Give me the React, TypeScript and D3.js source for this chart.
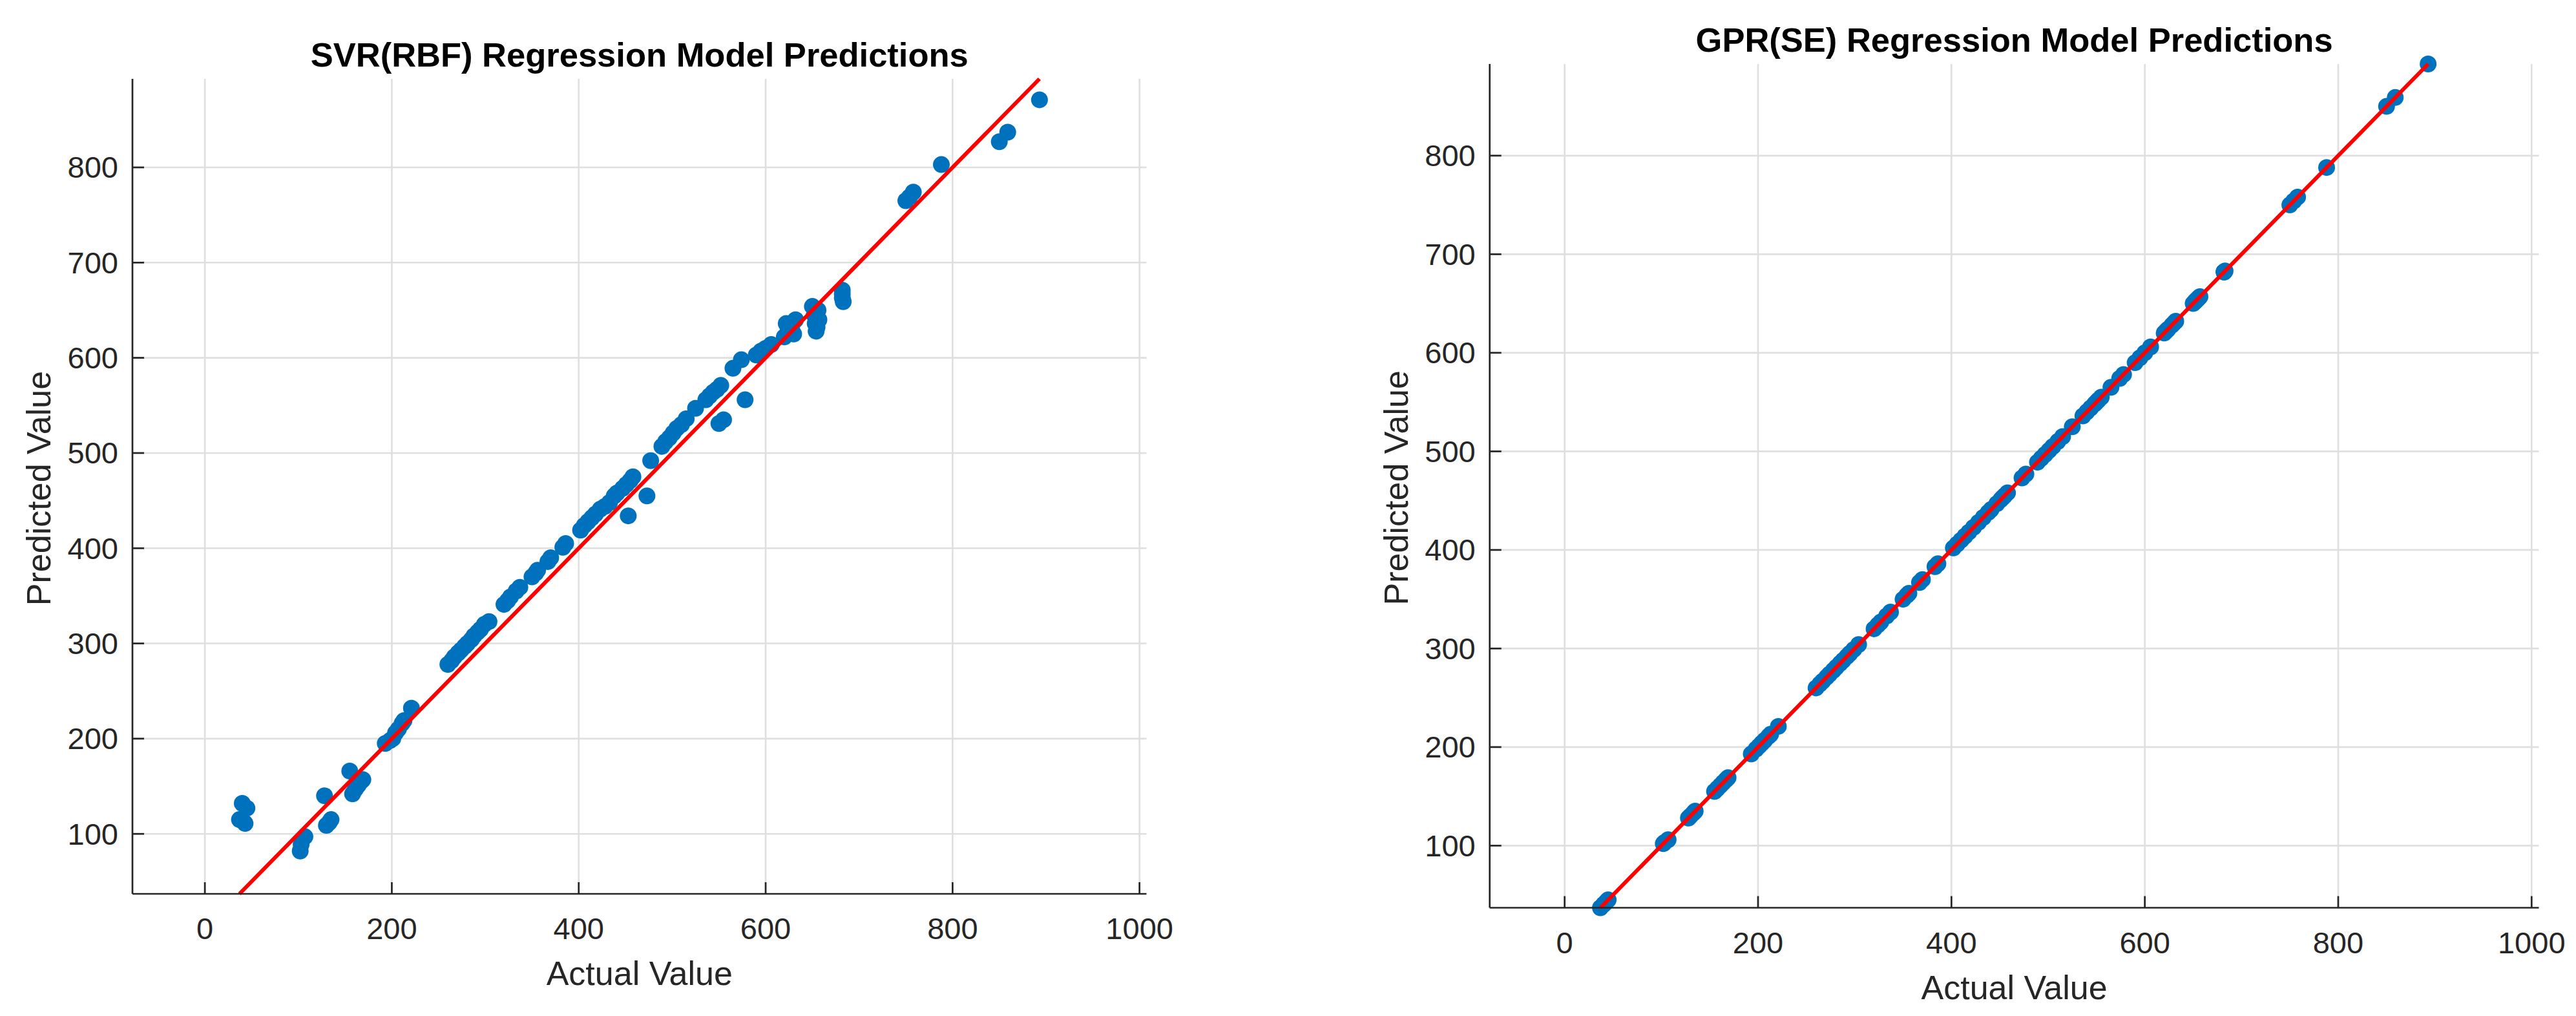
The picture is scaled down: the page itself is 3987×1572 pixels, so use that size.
import * as d3 from 'd3';

const actual = [
  37, 40, 45, 41, 43,
  107, 103, 102,
  128, 135, 130, 133,
  155, 158, 161, 164, 167, 169,
  193, 198, 201, 204, 207, 211, 213, 221,
  260, 264, 267, 271, 274, 278, 281, 285, 288, 292, 295, 299, 304,
  320, 324, 327, 333, 337,
  350, 354, 356, 367, 370, 383, 386,
  402, 406, 410, 414, 418, 423, 428, 433, 438, 441, 447, 451, 455, 458,
  453, 473,
  477, 489, 493, 497, 501, 505, 510, 515, 525,
  536, 540, 544, 548, 552, 565, 574,
  550, 555, 578,
  590, 595, 600, 606,
  620, 624, 628, 632, 622, 630,
  650, 652, 653, 654, 656, 657, 655,
  682, 682, 682, 683,
  750, 754, 758, 788, 850, 859, 893,
];

const svrPred = [
  115, 132, 127, 113, 111,
  97, 89, 82,
  140, 115, 109, 112,
  166, 142, 147, 151, 155, 157,
  195, 198, 200, 206, 210, 216, 219, 232,
  278, 282, 286, 290, 293, 297, 300, 304, 308, 312, 315, 320, 323,
  341, 345, 349, 355, 359,
  370, 374, 377, 386, 390, 401, 405,
  419, 424, 428, 432, 436, 441, 444, 448, 455, 458, 463, 467, 471, 475,
  434, 455,
  492, 507, 512, 516, 521, 526, 530, 536, 547,
  556, 560, 564, 567, 571, 589, 598,
  531, 535, 556,
  603, 607, 610, 614,
  622, 628, 634, 640, 636, 625,
  654, 645, 636, 628, 650, 640, 632,
  671, 667, 663, 659,
  765, 769, 774, 803, 827, 837, 871,
];

const gprPred = [
  37, 40, 45, 41, 43,
  106, 103, 102,
  128, 135, 130, 133,
  155, 158, 161, 164, 167, 169,
  193, 198, 201, 204, 207, 211, 213, 221,
  260, 264, 267, 271, 274, 278, 281, 285, 288, 292, 295, 299, 304,
  320, 324, 327, 333, 337,
  350, 354, 356, 367, 370, 383, 386,
  402, 406, 410, 414, 418, 423, 428, 433, 438, 441, 447, 451, 455, 458,
  453, 473,
  477, 489, 493, 497, 501, 505, 510, 515, 525,
  536, 540, 544, 548, 552, 565, 574,
  550, 555, 578,
  590, 595, 600, 606,
  620, 624, 628, 632, 622, 630,
  650, 652, 653, 654, 656, 657, 655,
  682, 682, 682, 683,
  750, 754, 758, 788, 850, 859, 893,
];

const titles = ['SVR(RBF) Regression Model Predictions', 'GPR(SE) Regression Model Predictions'];
const xTicks = [0, 200, 400, 600, 800, 1000];
const yTicks = [100, 200, 300, 400, 500, 600, 700, 800];
const xDomain = [-77.5, 1007.5];
const yDomain = [37, 893];

const W = 3987;
const H = 1572;
const FONT = '"Liberation Sans", Arial, Helvetica, sans-serif';
const AXIS = '#262626';
const GRID = '#dfdfdf';
const DOT = '#0072BD';

interface PanelProps {
  title: string;
  pred: number[];
  box: { left: number; right: number; top: number; bottom: number };
}

function Panel({ title, pred, box }: PanelProps) {
  const x = d3.scaleLinear().domain(xDomain).range([box.left, box.right]);
  const y = d3.scaleLinear().domain(yDomain).range([box.bottom, box.top]);
  const lo = d3.min(actual) as number;
  const hi = d3.max(actual) as number;
  const line = d3.line<number>().x((d) => x(d)).y((d) => y(d));
  const cx = (box.left + box.right) / 2;
  const cy = (box.top + box.bottom) / 2;

  return (
    <g>
      {/* grid */}
      {xTicks.map((t) => (
        <line key={'gx' + t} x1={x(t)} x2={x(t)} y1={box.top} y2={box.bottom} stroke={GRID} strokeWidth={2.6} />
      ))}
      {yTicks.map((t) => (
        <line key={'gy' + t} x1={box.left} x2={box.right} y1={y(t)} y2={y(t)} stroke={GRID} strokeWidth={2.6} />
      ))}

      {/* points */}
      {actual.map((a, i) => (
        <circle key={i} cx={x(a)} cy={y(pred[i])} r={13} fill={DOT} />
      ))}

      {/* ideal line */}
      <path d={line([lo, hi]) || ''} stroke="#ff0000" strokeWidth={6} fill="none" />

      {/* axes */}
      <line x1={box.left} x2={box.left} y1={box.top} y2={box.bottom} stroke={AXIS} strokeWidth={2.7} />
      <line x1={box.left} x2={box.right} y1={box.bottom} y2={box.bottom} stroke={AXIS} strokeWidth={2.7} />
      {xTicks.map((t) => (
        <g key={'tx' + t}>
          <line x1={x(t)} x2={x(t)} y1={box.bottom} y2={box.bottom - 18} stroke={AXIS} strokeWidth={2.7} />
          <text x={x(t)} y={box.bottom + 70} textAnchor="middle" fontSize={47} fill={AXIS} fontFamily={FONT}>
            {t}
          </text>
        </g>
      ))}
      {yTicks.map((t) => (
        <g key={'ty' + t}>
          <line x1={box.left} x2={box.left + 18} y1={y(t)} y2={y(t)} stroke={AXIS} strokeWidth={2.7} />
          <text x={box.left - 22} y={y(t)} dy="0.35em" textAnchor="end" fontSize={47} fill={AXIS} fontFamily={FONT}>
            {t}
          </text>
        </g>
      ))}

      <text x={cx} y={box.bottom + 141} textAnchor="middle" fontSize={52} fill={AXIS} fontFamily={FONT}>
        Actual Value
      </text>
      <text
        transform={`translate(${box.left - 127},${cy + 3}) rotate(-90)`}
        textAnchor="middle"
        fontSize={52}
        fill={AXIS}
        fontFamily={FONT}
      >
        Predicted Value
      </text>
      <text x={cx} y={box.top - 19} textAnchor="middle" fontSize={52.5} fontWeight="bold" fill="#000" fontFamily={FONT}>
        {title}
      </text>
    </g>
  );
}

export default function App() {
  return (
    <svg
      width={W}
      height={H}
      viewBox={`0 0 ${W} ${H}`}
      style={{ position: 'absolute', left: 0, top: 0, background: '#fff' }}
    >
      <rect width={W} height={H} fill="#fff" />
      <Panel title={titles[0]} pred={svrPred} box={{ left: 205, right: 1774.5, top: 122, bottom: 1383 }} />
      <Panel title={titles[1]} pred={gprPred} box={{ left: 2305.7, right: 3929.5, top: 99, bottom: 1404.5 }} />
    </svg>
  );
}
